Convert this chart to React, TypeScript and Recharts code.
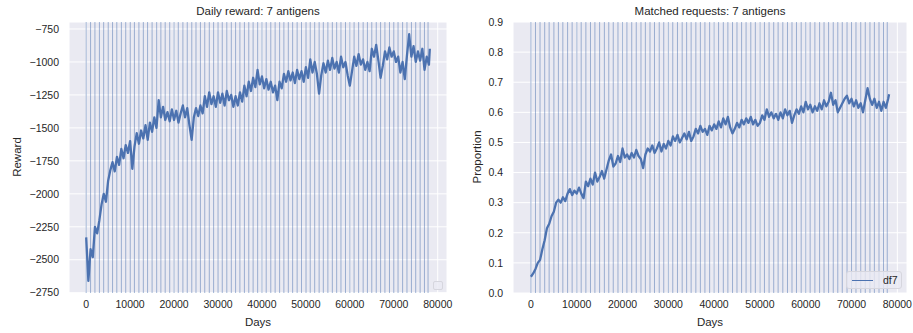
import React from "react"
import { CartesianGrid, Line, LineChart, ReferenceLine, XAxis, YAxis } from "recharts"

// day index of each logged point
const days = [
  0, 500, 1000, 1500, 2000, 2500, 3000, 3500, 4000, 4500,
  5000, 5500, 6000, 6500, 7000, 7500, 8000, 8500, 9000, 9500,
  10000, 10500, 11000, 11500, 12000, 12500, 13000, 13500, 14000, 14500,
  15000, 15500, 16000, 16500, 17000, 17500, 18000, 18500, 19000, 19500,
  20000, 20500, 21000, 21500, 22000, 22500, 23000, 23500, 24000, 24500,
  25000, 25500, 26000, 26500, 27000, 27500, 28000, 28500, 29000, 29500,
  30000, 30500, 31000, 31500, 32000, 32500, 33000, 33500, 34000, 34500,
  35000, 35500, 36000, 36500, 37000, 37500, 38000, 38500, 39000, 39500,
  40000, 40500, 41000, 41500, 42000, 42500, 43000, 43500, 44000, 44500,
  45000, 45500, 46000, 46500, 47000, 47500, 48000, 48500, 49000, 49500,
  50000, 50500, 51000, 51500, 52000, 52500, 53000, 53500, 54000, 54500,
  55000, 55500, 56000, 56500, 57000, 57500, 58000, 58500, 59000, 59500,
  60000, 60500, 61000, 61500, 62000, 62500, 63000, 63500, 64000, 64500,
  65000, 65500, 66000, 66500, 67000, 67500, 68000, 68500, 69000, 69500,
  70000, 70500, 71000, 71500, 72000, 72500, 73000, 73500, 74000, 74500,
  75000, 75500, 76000, 76500, 77000, 77500, 78000, 78200,
]

const reward = [
  -2330, -2660, -2420, -2480, -2250, -2300, -2200, -2080, -2000, -2060,
  -1900, -1820, -1760, -1830, -1720, -1780, -1660, -1730, -1630, -1690,
  -1600, -1810, -1640, -1540, -1620, -1520, -1580, -1480, -1590, -1460,
  -1530, -1420, -1500, -1290, -1420, -1340, -1440, -1380, -1450, -1360,
  -1440, -1370, -1460, -1390, -1330, -1420, -1350, -1480, -1590, -1420,
  -1350, -1410, -1330, -1390, -1260, -1340, -1230, -1320, -1260, -1340,
  -1230, -1310, -1240, -1330, -1220, -1290, -1250, -1340, -1260, -1330,
  -1230, -1300, -1180, -1260, -1150, -1220, -1120, -1190, -1060, -1170,
  -1110, -1200, -1130, -1210, -1150, -1230, -1180, -1290, -1150, -1200,
  -1090, -1150, -1070, -1140, -1080, -1160, -1060, -1130, -1070, -1150,
  -1040, -1120, -980, -1080, -1000, -1090, -1240, -1100, -1010, -1080,
  -990, -1060, -970, -1050, -1000, -1080, -960, -1040, -1000, -1100,
  -1180, -1070, -960, -1030, -940, -1020, -980, -1060, -1000, -1070,
  -900, -960, -870, -990, -1120, -1030, -920, -980, -890, -960,
  -920, -1000, -960, -1080, -1000, -1130, -950, -790, -960, -880,
  -1000, -920, -990, -900, -1060, -960, -1020, -900,
]

const matched = [
  0.054, 0.065, 0.08, 0.1, 0.11, 0.145, 0.175, 0.215, 0.23, 0.255,
  0.27, 0.3, 0.31, 0.3, 0.318, 0.305, 0.33, 0.345, 0.325, 0.34,
  0.33, 0.35, 0.33, 0.315, 0.37, 0.355, 0.38, 0.36, 0.4, 0.37,
  0.385, 0.405, 0.38, 0.41, 0.44, 0.46, 0.42, 0.43, 0.455, 0.435,
  0.48, 0.45, 0.46, 0.445, 0.465, 0.45, 0.475, 0.455, 0.445, 0.415,
  0.46, 0.48, 0.47, 0.49, 0.465, 0.48, 0.5, 0.47, 0.495, 0.48,
  0.505, 0.49, 0.52, 0.505, 0.525, 0.5, 0.515, 0.53, 0.51, 0.535,
  0.505, 0.52, 0.545, 0.53, 0.555, 0.535, 0.545, 0.525, 0.555, 0.54,
  0.56, 0.545, 0.57, 0.55, 0.58, 0.56, 0.585, 0.55, 0.53, 0.545,
  0.565, 0.55, 0.575, 0.56, 0.58, 0.565, 0.585, 0.56, 0.575, 0.555,
  0.565, 0.59, 0.575, 0.61, 0.585, 0.6, 0.58, 0.595, 0.575, 0.6,
  0.58, 0.61, 0.59, 0.605, 0.565, 0.59, 0.61, 0.595, 0.62, 0.6,
  0.635, 0.61, 0.625, 0.6, 0.62, 0.605, 0.63, 0.61, 0.64, 0.62,
  0.635, 0.665, 0.625, 0.64, 0.6, 0.615, 0.63, 0.645, 0.655, 0.63,
  0.645, 0.62, 0.64, 0.615, 0.63, 0.6, 0.64, 0.68, 0.645, 0.625,
  0.645, 0.615, 0.635, 0.605, 0.635, 0.615, 0.645, 0.66,
]

// first day of each episode (axvline markers)
const episodeStarts = [
  0, 1000, 1990, 3010, 3980, 5020, 6000, 6970, 8010, 9000,
  10030, 10980, 12000, 13010, 13970, 15000, 16040, 17000, 17980, 19010,
  20000, 20960, 22010, 23000, 24030, 24990, 26000, 26980, 28020, 29000,
  30010, 30970, 32000, 33030, 34000, 34980, 36010, 37000, 37990, 39020,
  40000, 40970, 42010, 43000, 44020, 44990, 46000, 46980, 48010, 49000,
  50030, 50990, 52000, 53010, 53970, 55000, 56020, 57000, 57980, 59010,
  60000, 60970, 62000, 63030, 64000, 64990, 66010, 67000, 67980, 69020,
  70000, 70970, 72010, 73000, 74020, 74990, 76000, 76980, 77800,
]

const dayTicks = [0, 10000, 20000, 30000, 40000, 50000, 60000, 70000, 80000]
const rewardTicks = [-2750, -2500, -2250, -2000, -1750, -1500, -1250, -1000, -750]
const proportionTicks = [0, 0.1, 0.2, 0.3, 0.4, 0.5, 0.6, 0.7, 0.8, 0.9]

const rows = days.map((d, i) => ({ day: d, reward: reward[i], matched: matched[i] }))

const BLUE = "#4C72B0"
const TEXT = "#262626"
const FONT = "'Liberation Sans', Arial, sans-serif"

type PanelProps = {
  left: number
  width: number
  yAxisWidth: number
  marginRight: number
  title: string
  yLabel: string
  dataKey: "reward" | "matched"
  yDomain: [number, number]
  yTicks: number[]
  formatY: (v: number) => string
  legend?: string
}

function Panel(props: PanelProps) {
  const { left, width, yAxisWidth, marginRight, title, yLabel, dataKey, yDomain, yTicks, formatY, legend } = props
  const plotLeft = left + yAxisWidth
  const plotRight = left + width - marginRight
  const plotCenter = (plotLeft + plotRight) / 2

  return (
    <>
      <div style={{ position: "absolute", left, top: 0 }}>
        <LineChart width={width} height={333} data={rows} margin={{ top: 22, right: marginRight, bottom: 0, left: 0 }}>
          <CartesianGrid stroke="#ffffff" strokeWidth={1} fill="#EAEAF2" fillOpacity={1} />
          <XAxis
            dataKey="day"
            type="number"
            domain={[-3910, 82110]}
            ticks={dayTicks}
            height={40}
            axisLine={false}
            tickLine={false}
            tickMargin={2}
            allowDataOverflow
            tick={{ fill: TEXT, fontSize: 10.5 }}
          />
          <YAxis
            type="number"
            domain={yDomain}
            ticks={yTicks}
            width={yAxisWidth}
            axisLine={false}
            tickLine={false}
            tickMargin={4}
            allowDataOverflow
            tickFormatter={formatY}
            tick={{ fill: TEXT, fontSize: 10.5 }}
          />
          {episodeStarts.map((x) => (
            <ReferenceLine key={x} x={x} stroke={BLUE} strokeOpacity={0.5} strokeWidth={1} />
          ))}
          <Line
            dataKey={dataKey}
            type="linear"
            stroke={BLUE}
            strokeWidth={2.3}
            strokeLinejoin="round"
            dot={false}
            isAnimationActive={false}
          />
        </LineChart>
      </div>

      <div
        style={{
          position: "absolute",
          left: plotCenter - 150,
          width: 300,
          top: 5,
          textAlign: "center",
          fontSize: 11.5,
          color: TEXT,
        }}
      >
        {title}
      </div>
      <div
        style={{
          position: "absolute",
          left: plotCenter - 50,
          width: 100,
          top: 316,
          textAlign: "center",
          fontSize: 11.5,
          color: TEXT,
        }}
      >
        Days
      </div>
      <div
        style={{
          position: "absolute",
          left: left + 17 - 60,
          top: 157 - 8,
          width: 120,
          height: 16,
          lineHeight: "16px",
          textAlign: "center",
          fontSize: 11.5,
          color: TEXT,
          transform: "rotate(-90deg)",
        }}
      >
        {yLabel}
      </div>

      {legend ? (
        <div
          style={{
            position: "absolute",
            left: plotRight - 61,
            top: 271,
            width: 56,
            height: 18,
            boxSizing: "border-box",
            border: "1px solid #d6d6de",
            borderRadius: 3,
            background: "rgba(234,234,242,0.8)",
          }}
        >
          <div style={{ position: "absolute", left: 5, top: 7.5, width: 21, height: 1.6, background: BLUE }} />
          <div style={{ position: "absolute", left: 36, top: 2, fontSize: 10.5, color: TEXT }}>{legend}</div>
        </div>
      ) : (
        <div
          style={{
            position: "absolute",
            left: plotRight - 14,
            top: 281,
            width: 10,
            height: 9,
            boxSizing: "border-box",
            border: "1px solid #d6d6de",
            borderRadius: 2,
            background: "rgba(234,234,242,0.8)",
          }}
        />
      )}
    </>
  )
}

export default function App() {
  return (
    <div
      style={{
        position: "absolute",
        left: 0,
        top: 0,
        width: 913,
        height: 333,
        background: "#ffffff",
        fontFamily: FONT,
        overflow: "hidden",
      }}
    >
      <Panel
        left={0}
        width={460}
        yAxisWidth={69}
        marginRight={13}
        title="Daily reward: 7 antigens"
        yLabel="Reward"
        dataKey="reward"
        yDomain={[-2752, -697]}
        yTicks={rewardTicks}
        formatY={(v) => String(v).replace("-", "\u2212")}
      />
      <Panel
        left={460}
        width={453}
        yAxisWidth={53}
        marginRight={6}
        title="Matched requests: 7 antigens"
        yLabel="Proportion"
        dataKey="matched"
        yDomain={[0, 0.9]}
        yTicks={proportionTicks}
        formatY={(v) => v.toFixed(1)}
        legend="df7"
      />
    </div>
  )
}
